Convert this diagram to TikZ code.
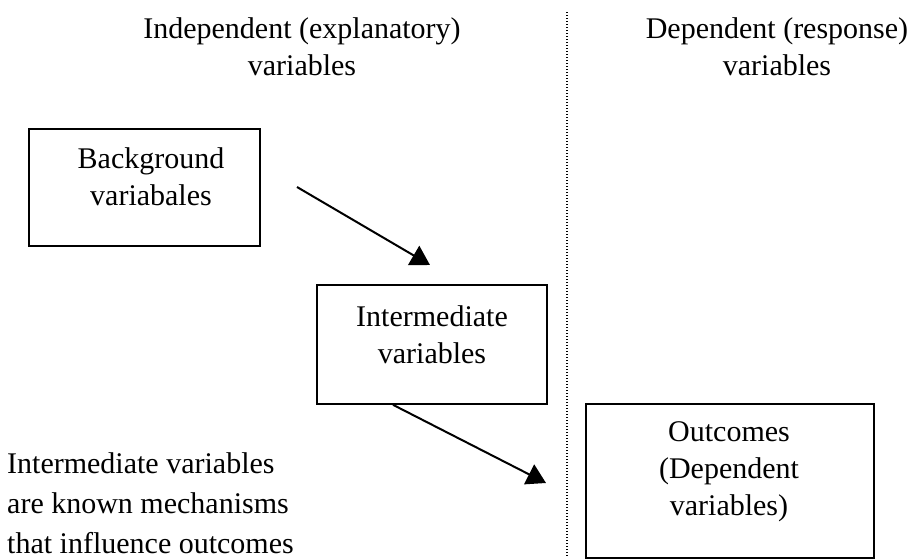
\documentclass[tikz,border=0pt]{standalone}
\usepackage{fontspec}
\setmainfont{Liberation Serif}
\usetikzlibrary{arrows.meta}
\begin{document}
\begin{tikzpicture}[x=1pt,y=-1pt,
  txt/.style={font=\fontsize{30}{37}\selectfont, align=center, inner sep=0pt},
  varbox/.style={draw, line width=1.8pt, rectangle, inner sep=0pt, anchor=north west},
  flow/.style={line width=2pt, -{Triangle[length=19pt,width=22pt]}},
  divider/.style={line width=1.3pt, dash pattern=on 1.2pt off 1.8pt}
]
\useasboundingbox (0,0) rectangle (922,560);

% column headings
\node[txt] (indep) at (302,47) {Independent (explanatory)\\variables};
\node[txt] (dep) at (777,47) {Dependent (response)\\variables};

% dotted divider between the two columns
\coordinate (divtop) at (567,12);
\coordinate (divbot) at (567,556);
\draw[divider] (divtop) -- (divbot);

% boxes
\node[varbox, minimum width=231pt, minimum height=117pt] (bg) at (28,128) {};
\node[txt] (bgtext) at (151,177) {Background\\variabales};

\node[varbox, minimum width=230pt, minimum height=119pt] (mid) at (316,284) {};
\node[txt] (midtext) at (432,335) {Intermediate\\variables};

\node[varbox, minimum width=288pt, minimum height=154pt] (out) at (585,403) {};
\node[txt] (outtext) at (729,472) {Outcomes\\(Dependent\\variables)};

% explanatory note
\node[txt, align=left, anchor=west, font=\fontsize{30}{40}\selectfont] (note) at (7,503)
  {Intermediate variables\\are known mechanisms\\that influence outcomes};

% arrows
\coordinate (a1start) at (297,187);
\coordinate (a1end) at (430,265);
\draw[flow] (a1start) -- (a1end);

\coordinate (a2start) at ([xshift=77pt]mid.south west);
\coordinate (a2end) at (546,483);
\draw[flow] (a2start) -- (a2end);
\end{tikzpicture}
\end{document}
